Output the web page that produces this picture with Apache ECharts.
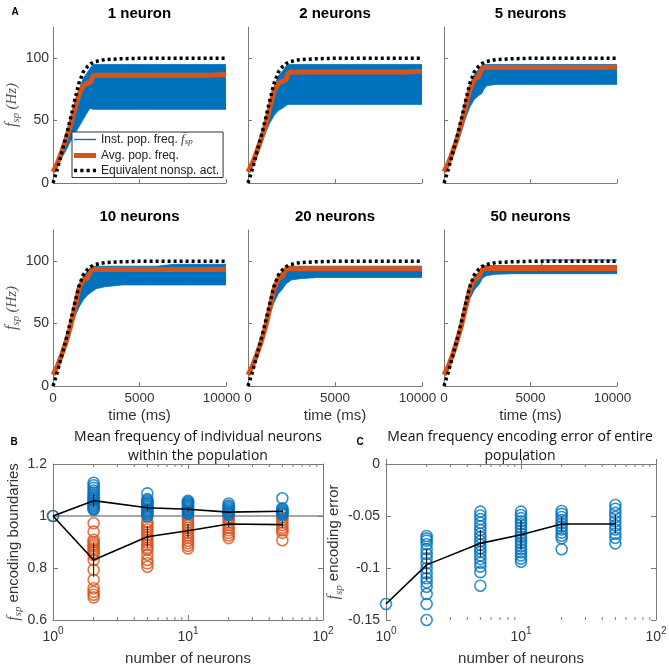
<!DOCTYPE html>
<html><head><meta charset="utf-8">
<script src="https://cdn.jsdelivr.net/npm/echarts@6/dist/echarts.min.js"></script>
<style>html,body{margin:0;padding:0;background:#fff}#c{width:669px;height:664px}</style>
</head><body><div id="c"></div>
<script>
// ---------- Panel A data (time course) ----------
const timeMs = [0,250,500,750,1000,1250,1500,1750,2000,2100,2200,2300,2400,2500,3000,4000,5000,5600,5700,6000,7000,8000,9000,10000];
const panelTitles = ['1 neuron','2 neurons','5 neurons','10 neurons','20 neurons','50 neurons'];
const equivalentNonsp = [0,11,24,37,51,66,80,89,93.5,94.8,95.8,96.6,97.2,97.7,98.9,99.6,99.9,100,100,100,100,100,100,100];

const avg1  = [9,16,25,35,46,59,71,78,80,80.5,81,86,86.3,86.3,86.3,86.3,86.3,86.3,86.3,86.3,86.3,86.3,86.3,87];
const avg2  = [9,16,25,35,46,60,74,80,81.5,82,83,88,89,89,89,89,89,89,89,89,89,89,89,89.5];
const avg5  = [9,16,25,35,47,61,75,83,85,86,92,92.5,92.5,92.5,92.5,92.5,92.5,92.5,92.5,92.5,92.5,92.5,92.5,93];
const avg10 = [9,16,25,35,47,62,78,85,86.5,88,93,93.3,93.3,93.3,93.3,93.3,93.3,93.3,93.3,93.3,93.3,93.3,93.3,93.5];
const avg20 = [9,16,25,35,47,62,78,86,88,92,93.8,94,94,94,94,94,94,94,94,94,94,94,94,94];
const avg50 = [9,16,25,36,48,63,78,85,87,88,93.5,94.2,94.2,94.2,94.2,94.2,94.2,94.2,94.2,94.2,94.2,94.2,94.2,94.2];

const instUpper1  = [10,18,27,37,49,62,74,84,89,91,93,95,95,95,95,95,95,95,95,95,95,95,95,95];
const instUpper2  = [10,18,27,37,49,63,77,86,90,92,94,95,95,95,95,95,95,95,95,95,95,95,95,95];
const instUpper5  = [10,18,27,37,50,64,78,87,91,93,94.5,95,95,95,95,95,95,95,95,95,95,95,95,95];
const instUpper10 = [10,18,27,38,50,65,80,88,92,94,95.5,96,96,96,96,96,96,96,96,96,97.5,97.5,97.5,97.5];
const instUpper20 = [10,18,27,38,50,65,80,89,92,94,95.5,96,96,96,96,96,96,96,96,96,96,96,96,96];
const instUpper50 = [10,18,27,38,50,65,80,88,91,93,95.5,96.5,96.5,96.5,96.5,96.5,96.5,96.5,96.5,96.5,96.5,96.5,96.5,96.5];

const instLower1  = [9,14,20,26,33,39,45,51,57,59,60,59,59,59,59,59,59,59,59,59,59,59,59,59];
const instLower2  = [9,14,21,30,40,48,54,58,60,61,62,63,63,63,63,63,63,63,63,63,63,63,63,63];
const instLower5  = [9,15,22,31,41,52,61,67,70,71,72,75,77,78,79,79,79,79,79,79,79,79,79,79];
const instLower10 = [9,15,23,33,44,55,63,69,73,74,75,76,77,78,79.5,81,81,81,81,81,81,81,81,81];
const instLower20 = [9,15,24,34,45,57,67,74,78,80,82,83,84,85,86,87,87,87,87,87,87,87,87,87];
const instLower50 = [9,15,24,34,45,58,70,77,81,83,86,87,88,88.5,89.5,90,90,90,90,90,90,90,90,90];

const peak50Times = [5650,5650,10000];
const peak50Vals  = [96.5,101,101];

const avgAll = [avg1,avg2,avg5,avg10,avg20,avg50];
const upperAll = [instUpper1,instUpper2,instUpper5,instUpper10,instUpper20,instUpper50];
const lowerAll = [instLower1,instLower2,instLower5,instLower10,instLower20,instLower50];

// ---------- Panel B / C data ----------
const neuronCounts = [1,2,5,10,20,50];
const upperBounds = [
  [1.0],
  [1.128,1.118,1.108,1.098,1.09,1.082,1.076,1.07,1.064,1.058,1.052,1.047,1.042,1.037,1.032,1.028,1.024],
  [1.087,1.065,1.06,1.055,1.05,1.045,1.04,1.035,1.03,1.025,1.02,1.015,1.01,1.005,0.998],
  [1.058,1.054,1.05,1.046,1.042,1.038,1.034,1.03,1.026,1.022,1.018,1.014,1.01,1.007],
  [1.048,1.04,1.035,1.03,1.025,1.02,1.016,1.012,1.008,1.004],
  [1.068,1.03,1.025,1.02,1.015,1.012,1.008,1.004]
];
const lowerBounds = [
  [1.0],
  [0.972,0.94,0.908,0.9,0.892,0.884,0.876,0.868,0.86,0.85,0.831,0.793,0.755,0.722,0.708,0.697,0.687],
  [0.978,0.968,0.958,0.948,0.938,0.928,0.918,0.908,0.898,0.888,0.878,0.87,0.851,0.831,0.818,0.805],
  [0.995,0.985,0.975,0.965,0.955,0.945,0.935,0.925,0.915,0.905,0.895,0.885,0.875],
  [0.995,0.985,0.975,0.965,0.955,0.945,0.935,0.925,0.915],
  [0.995,0.985,0.975,0.965,0.955,0.945,0.935,0.907]
];
const upperMean = [1,1.059,1.032,1.026,1.015,1.018];
const upperStd  = [0,0.025,0.012,0.008,0.005,0.006];
const lowerMean = [1,0.831,0.92,0.943,0.969,0.967];
const lowerStd  = [0,0.065,0.04,0.025,0.012,0.012];

const encodingErrors = [
  [-0.1346],
  [-0.0692,-0.0715,-0.0737,-0.0772,-0.082,-0.0865,-0.0907,-0.0955,-0.1003,-0.1051,-0.1099,-0.1138,-0.118,-0.125,-0.1346,-0.15],
  [-0.0458,-0.0495,-0.053,-0.0565,-0.06,-0.0635,-0.067,-0.0705,-0.074,-0.0775,-0.081,-0.0845,-0.088,-0.0915,-0.095,-0.0987,-0.104,-0.117],
  [-0.0458,-0.049,-0.052,-0.055,-0.058,-0.061,-0.064,-0.067,-0.07,-0.073,-0.076,-0.079,-0.082,-0.085,-0.088,-0.091,-0.094],
  [-0.0452,-0.048,-0.051,-0.054,-0.057,-0.06,-0.063,-0.066,-0.069,-0.0715,-0.082],
  [-0.0394,-0.043,-0.047,-0.051,-0.055,-0.059,-0.063,-0.067,-0.071,-0.0763]
];
const errorMean = [-0.1346,-0.097,-0.0763,-0.068,-0.0577,-0.0577];
const errorStd  = [0,0.015,0.013,0.014,0.007,0.009];
const logMinorTicks = [2,3,4,5,6,7,8,9,20,30,40,50,60,70,80,90];
const referenceLevel = 1;

// ---------- styling ----------
const BLUE = '#0072BD', ORANGE = '#D95319';
const AX = '#7a7a7a', TXT = '#333';
const SANS = 'Liberation Sans';
const SERIF = 'Liberation Serif';

const chart = echarts.init(document.getElementById('c'));

const cols = [[53,173],[248,174],[444,173]];
const rows = [27,230];
const grids = [], xAxes = [], yAxes = [], series = [];

const fspRich = {
  f: {fontFamily: SERIF, fontStyle: 'italic', fontSize: 16, color: '#555', lineHeight: 20, verticalAlign: 'middle'},
  s: {fontFamily: SERIF, fontStyle: 'italic', fontSize: 11, color: '#555', lineHeight: 20, verticalAlign: 'bottom'},
  h: {fontFamily: SERIF, fontStyle: 'italic', fontSize: 15, color: '#555', lineHeight: 20, verticalAlign: 'middle'},
  t: {fontFamily: SANS, fontSize: 15, color: TXT, lineHeight: 20, verticalAlign: 'middle'}
};

// one polygon per panel: upper envelope forward, lower envelope backward
function bandSeries(i, lo, up) {
  return {type: 'custom', xAxisIndex: i, yAxisIndex: i, silent: true, z: 2, clip: true,
    data: [[timeMs[0], lo[0]]],
    renderItem: (p, api) => {
      const pts = [];
      for (let k = 0; k < timeMs.length; k++) pts.push(api.coord([timeMs[k], up[k]]));
      for (let k = timeMs.length - 1; k >= 0; k--) pts.push(api.coord([timeMs[k], lo[k]]));
      return {type: 'polygon', shape: {points: pts}, style: {fill: BLUE, stroke: BLUE, lineWidth: 0.8}};
    }};
}

for (let i = 0; i < 6; i++) {
  const r = Math.floor(i / 3), c = i % 3;
  grids.push({left: cols[c][0], top: rows[r], width: cols[c][1], height: 156, containLabel: false, outerBoundsMode: 'none'});
  xAxes.push({
    type: 'value', gridIndex: i, min: 0, max: 10000, interval: 5000,
    axisLine: {show: true, lineStyle: {color: AX, width: 1}},
    axisTick: {show: true, inside: true, length: 4, lineStyle: {color: AX}},
    axisLabel: {show: r === 1, color: TXT, fontSize: 13.5, fontFamily: SANS, margin: 5,
      formatter: v => v === 10000 ? '{m|' + v + '}' : String(v),
      rich: {m: {fontSize: 13.5, fontFamily: SANS, color: TXT, padding: [0, 9, 0, 0]}}},
    splitLine: {show: false},
    name: r === 1 ? 'time (ms)' : '', nameLocation: 'middle', nameGap: 22,
    nameTextStyle: {color: TXT, fontSize: 15, fontFamily: SANS}
  });
  yAxes.push({
    type: 'value', gridIndex: i, min: 0, max: 125, interval: 50,
    axisLine: {show: true, lineStyle: {color: AX, width: 1}},
    axisTick: {show: true, inside: true, length: 4, lineStyle: {color: AX}, customValues: [0,50,100]},
    axisLabel: {show: c === 0, color: TXT, fontSize: 14, fontFamily: SANS, margin: 4, customValues: [0,50,100]},
    splitLine: {show: false},
    name: c === 0 ? '{f|f}{s|sp} {h|(Hz)}' : '', nameLocation: 'middle', nameGap: 31, nameRotate: 90,
    nameTextStyle: {rich: fspRich}
  });
  const lo = lowerAll[i], up = upperAll[i], av = avgAll[i];
  series.push(bandSeries(i, lo, up));
  if (i === 5) {
    series.push({type: 'line', xAxisIndex: i, yAxisIndex: i, symbol: 'none', silent: true,
      lineStyle: {width: 1, color: BLUE}, data: peak50Times.map((t, k) => [t, peak50Vals[k]]), z: 2});
  }
  series.push({type: 'line', name: 'Avg. pop. freq.', xAxisIndex: i, yAxisIndex: i, symbol: 'none', silent: true,
    lineStyle: {width: 5, color: ORANGE}, itemStyle: {color: ORANGE}, data: timeMs.map((t, k) => [t, av[k]]), z: 3});
  series.push({type: 'line', name: 'Equivalent nonsp. act.', xAxisIndex: i, yAxisIndex: i, symbol: 'none', silent: true,
    lineStyle: {width: 3.5, color: '#000', type: [3, 3]}, itemStyle: {color: '#000'},
    data: timeMs.map((t, k) => [t, equivalentNonsp[k]]), z: 4});
}
// legend-only entry for instantaneous frequency
series.push({type: 'line', name: 'Inst. pop. freq.', xAxisIndex: 0, yAxisIndex: 0, symbol: 'none', data: [],
  lineStyle: {width: 1.5, color: BLUE}, itemStyle: {color: BLUE}});

// ---------- B and C ----------
const logLabel = {
  show: true, margin: 6,
  formatter: v => '{b|10}{e|' + Math.round(Math.log10(v)) + '}',
  rich: {
    b: {fontSize: 14, fontFamily: SANS, color: TXT, lineHeight: 18, verticalAlign: 'bottom'},
    e: {fontSize: 10, fontFamily: SANS, color: TXT, lineHeight: 18, verticalAlign: 'top'}
  }
};
function addBoxedPanel(gi, left, yMin, yMax, yInt, yName, nameGap) {
  grids.push({left: left, top: 464, width: 270, height: 156, containLabel: false, outerBoundsMode: 'none'});
  const xb = xAxes.length;
  xAxes.push({type: 'log', logBase: 10, gridIndex: gi, min: 1, max: 100, position: 'bottom',
    axisLine: {show: true, lineStyle: {color: AX}}, axisTick: {show: true, inside: true, length: 5, lineStyle: {color: AX}},
    axisLabel: logLabel, splitLine: {show: false}, minorTick: {show: false},
    name: 'number of neurons', nameLocation: 'middle', nameGap: 31, nameTextStyle: {color: TXT, fontSize: 15, fontFamily: SANS}});
  xAxes.push({type: 'log', logBase: 10, gridIndex: gi, min: 1, max: 100, position: 'top',
    axisLine: {show: true, lineStyle: {color: AX}}, axisTick: {show: true, inside: true, length: 5, lineStyle: {color: AX}},
    axisLabel: {show: false}, splitLine: {show: false}});
  const yb = yAxes.length;
  yAxes.push({type: 'value', gridIndex: gi, min: yMin, max: yMax, interval: yInt, position: 'left',
    axisLine: {show: true, lineStyle: {color: AX}}, axisTick: {show: true, inside: true, length: 5, lineStyle: {color: AX}},
    axisLabel: {color: TXT, fontSize: 14, fontFamily: SANS, margin: 6}, splitLine: {show: false},
    name: yName, nameLocation: 'middle', nameGap: nameGap, nameRotate: 90, nameTextStyle: {rich: fspRich}});
  yAxes.push({type: 'value', gridIndex: gi, min: yMin, max: yMax, interval: yInt, position: 'right',
    axisLine: {show: true, lineStyle: {color: AX}}, axisTick: {show: true, inside: true, length: 5, lineStyle: {color: AX}},
    axisLabel: {show: false}, splitLine: {show: false}});
  // minor log ticks (top and bottom)
  series.push({type: 'custom', xAxisIndex: xb, yAxisIndex: yb, silent: true, z: 6,
    data: logMinorTicks.map(v => [v, yMin]),
    renderItem: (p, api) => {
      const b = api.coord([api.value(0), yMin]);
      const t = api.coord([api.value(0), yMax]);
      return {type: 'group', children: [
        {type: 'line', shape: {x1: b[0], y1: b[1], x2: b[0], y2: b[1] - 3}, style: {stroke: AX, lineWidth: 1}},
        {type: 'line', shape: {x1: t[0], y1: t[1], x2: t[0], y2: t[1] + 3}, style: {stroke: AX, lineWidth: 1}}
      ]};
    }});
  return [xb, yb];
}
function errorBars(xi, yi, means, stds) {
  return {type: 'custom', xAxisIndex: xi, yAxisIndex: yi, silent: true, z: 7,
    data: neuronCounts.map((n, k) => [n, means[k] - stds[k], means[k] + stds[k]]),
    encode: {x: 0, y: [1, 2]},
    renderItem: (p, api) => {
      const a = api.coord([api.value(0), api.value(1)]);
      const b = api.coord([api.value(0), api.value(2)]);
      return {type: 'line', shape: {x1: a[0], y1: a[1], x2: b[0], y2: b[1]}, style: {stroke: '#000', lineWidth: 1}};
    }};
}
function circles(xi, yi, sets, color) {
  const pts = [];
  sets.forEach((vals, k) => vals.forEach(v => pts.push([neuronCounts[k], v])));
  return {type: 'scatter', xAxisIndex: xi, yAxisIndex: yi, silent: true, symbol: 'circle', symbolSize: 11,
    itemStyle: {color: 'rgba(0,0,0,0)', borderColor: color, borderWidth: 1.6}, data: pts, z: 4};
}
const [bx, by] = addBoxedPanel(6, 53, 0.6, 1.2, 0.2, '{f|f}{s|sp}{t| encoding boundaries}', 27);
series.push({type: 'line', xAxisIndex: bx, yAxisIndex: by, symbol: 'none', silent: true,
  lineStyle: {color: '#8a8a8a', width: 1.5}, data: [[1, referenceLevel], [100, referenceLevel]], z: 3});
series.push(circles(bx, by, lowerBounds, ORANGE));
series.push(circles(bx, by, upperBounds, BLUE));
series.push({type: 'line', xAxisIndex: bx, yAxisIndex: by, symbol: 'none', silent: true,
  lineStyle: {color: '#000', width: 1.6}, data: neuronCounts.map((n, k) => [n, upperMean[k]]), z: 5});
series.push({type: 'line', xAxisIndex: bx, yAxisIndex: by, symbol: 'none', silent: true,
  lineStyle: {color: '#000', width: 1.6}, data: neuronCounts.map((n, k) => [n, lowerMean[k]]), z: 5});
series.push(errorBars(bx, by, upperMean, upperStd));
series.push(errorBars(bx, by, lowerMean, lowerStd));

const [cx, cy] = addBoxedPanel(7, 386, -0.15, 0, 0.05, '{f|f}{s|sp}{t| encoding error}', 22);
series.push(circles(cx, cy, encodingErrors, BLUE));
series.push({type: 'line', xAxisIndex: cx, yAxisIndex: cy, symbol: 'none', silent: true,
  lineStyle: {color: '#000', width: 1.6}, data: neuronCounts.map((n, k) => [n, errorMean[k]]), z: 5});
series.push(errorBars(cx, cy, errorMean, errorStd));

// ---------- text ----------
const graphics = [];
const colCenters = [139.5, 335, 530.5];
panelTitles.forEach((t, i) => {
  const r = Math.floor(i / 3), c = i % 3;
  graphics.push({type: 'text', x: colCenters[c], y: r === 0 ? 14 : 217,
    style: {text: t, font: 'bold 15px "Liberation Sans"', fill: '#000', textAlign: 'center', textVerticalAlign: 'middle'}});
});
[['A', 15, 12], ['B', 14, 442], ['C', 360, 442]].forEach(([t, x, y]) => {
  graphics.push({type: 'text', x: x, y: y, style: {text: t, font: 'bold 10px "Liberation Sans"', fill: '#000', textAlign: 'center', textVerticalAlign: 'middle'}});
});
[['Mean frequency of individual neurons', 198, 437], ['within the population', 198, 456],
 ['Mean frequency encoding error of entire', 520, 437], ['population', 520, 456]].forEach(([t, x, y]) => {
  graphics.push({type: 'text', x: x, y: y, style: {text: t, font: '14px "Open Sans"', fill: '#111', textAlign: 'center', textVerticalAlign: 'middle'}});
});

chart.setOption({
  animation: false,
  backgroundColor: '#fff',
  grid: grids, xAxis: xAxes, yAxis: yAxes, series: series,
  legend: {
    show: true, selectedMode: false, orient: 'vertical', left: 72, top: 132,
    data: [
      {name: 'Inst. pop. freq.', icon: 'path://M0,0h22v1.4h-22z'},
      {name: 'Avg. pop. freq.', icon: 'path://M0,0h22v5h-22z'},
      {name: 'Equivalent nonsp. act.', icon: 'path://M0,0h3v3.5h-3zM6,0h3v3.5h-3zM12,0h3v3.5h-3zM18,0h3v3.5h-3z'}
    ],
    itemWidth: 22, itemHeight: 12, itemGap: 3, padding: [1, 4, 1, 2],
    backgroundColor: '#fff', borderColor: '#333', borderWidth: 1, borderRadius: 0,
    textStyle: {fontSize: 12, fontFamily: SANS, color: '#222',
      rich: {f: {fontFamily: SERIF, fontStyle: 'italic', fontSize: 13, color: '#444'},
             s: {fontFamily: SERIF, fontStyle: 'italic', fontSize: 9, color: '#444', verticalAlign: 'bottom', lineHeight: 14}}},
    formatter: n => n === 'Inst. pop. freq.' ? 'Inst. pop. freq. {f|f\u0304}{s|sp}' : n
  },
  graphic: graphics
});
</script>
</body></html>
